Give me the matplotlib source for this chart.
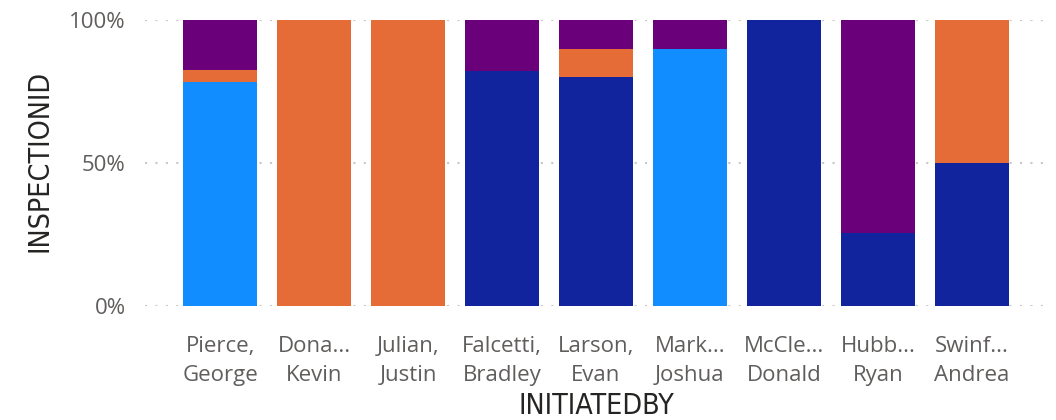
import matplotlib
matplotlib.use("Agg")
import matplotlib.pyplot as plt
import numpy as np

categories = ["Pierce,\nGeorge", "Dona...\nKevin", "Julian,\nJustin", "Falcetti,\nBradley",
              "Larson,\nEvan", "Mark...\nJoshua", "McCle...\nDonald", "Hubb...\nRyan", "Swinf...\nAndrea"]
# percent shares per series (stack order bottom -> top)
series_names = ["Series 1", "Series 2", "Series 3", "Series 4"]
s_lightblue = [78.4, 0, 0, 0, 0, 89.8, 0, 0, 0]
s_navy      = [0, 0, 0, 82.1, 80.0, 0, 100, 25.3, 50.0]
s_orange    = [4.1, 100, 100, 0, 9.8, 0, 0, 0, 50.0]
s_purple    = [17.5, 0, 0, 17.9, 10.2, 10.2, 0, 74.7, 0]
colors = ["#118DFF", "#12239E", "#E66C37", "#6B007B"]
yticks = [0, 50, 100]
ytick_labels = ["0%", "50%", "100%"]

fig = plt.figure(figsize=(10.56, 4.2), dpi=100)
ax = fig.add_axes([145/1056, 1 - 305.7/420, (1047-145)/1056, 285.7/420])

x = np.arange(len(categories))
bottom = np.zeros(len(categories))
for vals, c, name in zip([s_lightblue, s_navy, s_orange, s_purple], colors, series_names):
    v = np.array(vals, dtype=float)
    ax.bar(x, v, bottom=bottom, width=0.787, color=c, label=name, linewidth=0, zorder=3)
    bottom += v

ax.set_xlim(-0.8, len(categories) - 0.2)
ax.set_ylim(0, 100)
ax.set_yticks(yticks)
ax.set_yticklabels(ytick_labels)
ax.set_xticks(x)
ax.set_xticklabels(categories, linespacing=1.5)
for s in ax.spines.values():
    s.set_visible(False)
ax.tick_params(axis="both", length=0, colors="#605E5C", labelsize=16)
ax.tick_params(axis="y", pad=14)
ax.tick_params(axis="x", pad=22)
for lab in ax.get_xticklabels() + ax.get_yticklabels():
    lab.set_fontfamily("Open Sans")
ax.grid(axis="y", color="#C8C8C8", linestyle=(0, (1, 4)), linewidth=1.5, zorder=0)
ax.set_axisbelow(True)

fig.text(40/1056, 1 - 161/420, "INSPECTIONID", rotation=90, ha="center", va="center",
         fontsize=20.5, color="#252423", family="DejaVu Sans", fontstretch="condensed")
fig.text(596/1056, 1 - 406/420, "INITIATEDBY", ha="center", va="center",
         fontsize=20.5, color="#252423", family="DejaVu Sans", fontstretch="condensed")

fig.savefig("out.png", dpi=100)
